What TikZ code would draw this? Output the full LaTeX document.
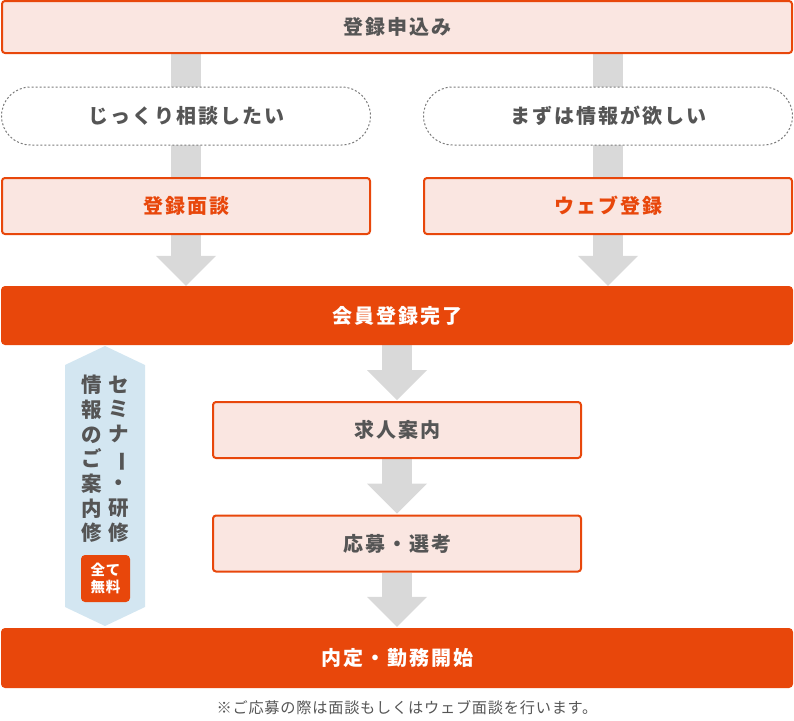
\documentclass[tikz,border=0pt]{standalone}
\usepackage{fontspec}
\usepackage{graphicx}
\newfontfamily\jp{Noto Sans CJK JP}[LetterSpace=10]
\newfontfamily\jpn{Noto Sans CJK JP}[LetterSpace=5]
\newfontfamily\jpz{Noto Sans CJK JP}
\newfontfamily\jpb{Noto Sans CJK JP}[LetterSpace=5]
\usetikzlibrary{calc,backgrounds}
\definecolor{orng}{HTML}{E8470B}
\definecolor{pinkfill}{HTML}{FAE6E1}
\definecolor{txtgray}{HTML}{555555}
\definecolor{argray}{HTML}{D9D9D9}
\definecolor{bannerblue}{HTML}{D3E6F1}
\definecolor{dashgray}{HTML}{7A7A7A}
\newcommand\grayarrow[2]{%
  \path (#1) coordinate (gaS) (#2) coordinate (gaE);
  \fill[argray] ($(gaS)+(-15,0)$) rectangle ($(gaE)+(15,-29)$);
  \fill[argray] ($(gaE)+(-30,-30)$) -- ($(gaE)+(30,-30)$) -- (gaE) -- cycle;}
\begin{document}
\begin{tikzpicture}[x=1pt,y=-1pt,
  base/.style={inner sep=0pt, font=\jp\bfseries\fontsize{20}{24}\selectfont},
  pinkbox/.style={base, draw=orng, line width=2pt, fill=pinkfill, rounded corners=3pt, minimum width=368pt, minimum height=56pt},
  pill/.style={base, draw=dashgray, line width=1pt, dash pattern=on 2pt off 2pt, fill=white, rounded corners=29pt, minimum width=369pt, minimum height=58pt, text=txtgray},
  bigbar/.style={base, fill=orng, rounded corners=4pt, minimum width=792pt, text=white},
  coltext/.style={inner sep=0pt, align=center, text=txtgray, font=\jpz\bfseries\fontsize{20.5}{24.7}\selectfont},
  badge/.style={inner sep=0pt, align=center, fill=orng, rounded corners=4pt, minimum width=49pt, minimum height=47pt, text=white, font=\jpb\bfseries\fontsize{14.5}{17}\selectfont},
  notetext/.style={inner sep=0pt, text=txtgray, font=\jpn\fontsize{15.2}{18}\selectfont}
]
\useasboundingbox (0,0) rectangle (794,720);

% nodes
\node[pinkbox, minimum width=790pt, minimum height=52pt, text=txtgray] (top) at (397,27) {登録申込み};
\node[pill] (pillL) at (186,116) {じっくり相談したい};
\node[pill] (pillR) at (608,116) {まずは情報が欲しい};
\node[pinkbox, text=orng] (menL) at (186,206) {登録面談};
\node[pinkbox, text=orng] (webR) at (608,206) {ウェブ登録};
\node[bigbar, minimum height=59pt] (kaiin) at (397,315.5) {会員登録完了};
\node[pinkbox, text=txtgray] (kyujin) at (397,430) {求人案内};
\node[pinkbox, text=txtgray] (oubo) at (397,543.5) {応募・選考};
\node[bigbar, minimum height=60pt] (naitei) at (397,658) {内定・勤務開始};
\node[notetext] (note) at (407,708) {※ご応募の際は面談もしくはウェブ面談を行います。};

% side banner
\fill[bannerblue] (105,346) -- (145,365) -- (145,607) -- (105,626) -- (65,607) -- (65,365) -- cycle;
\node[coltext] (colR) at (119,459) {セ\\ミ\\ナ\\\rotatebox[origin=c]{-90}{ー}\\・\\研\\修};
\node[coltext] (colL) at (92,459) {情\\報\\の\\ご\\案\\内\\修};
\node[badge] (free) at (105.5,578.5) {全て\\無料};

% gray arrows
\begin{pgfonlayer}{background}
\grayarrow{pillL.center |- top.south}{pillL.center |- kaiin.north}
\grayarrow{pillR.center |- top.south}{pillR.center |- kaiin.north}
\grayarrow{kaiin.south}{$(kyujin.north)+(0,-1)$}
\grayarrow{kyujin.south}{$(oubo.north)+(0,-1)$}
\grayarrow{oubo.south}{$(naitei.north)+(0,-1)$}
\end{pgfonlayer}
\end{tikzpicture}
\end{document}
